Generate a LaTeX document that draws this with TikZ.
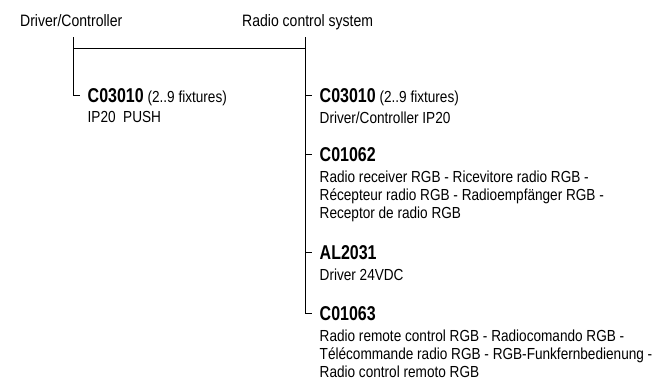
\documentclass[tikz,border=0pt]{standalone}
\usepackage{fontspec}
\setmainfont{Liberation Sans}[FakeStretch=0.85]
\newfontfamily\partfont{Liberation Sans}[FakeStretch=0.8]
\usetikzlibrary{positioning}
\tikzset{
  head/.style={inner sep=0pt, anchor=base west, font=\fontsize{16.5}{18}\selectfont},
  code/.style={inner xsep=7.5pt, inner ysep=0pt, anchor=west, text height=14.6pt, text depth=0pt, font=\fontsize{16}{18}\selectfont},
  note/.style={inner xsep=7.5pt, inner ysep=0pt, align=left, font=\fontsize{16}{18}\selectfont},
  branch/.style={line width=0.8pt}
}
\newcommand{\partno}[1]{{\partfont\fontsize{20}{22}\selectfont\bfseries #1}}

\begin{document}
\begin{tikzpicture}[x=1pt, y=-1pt]
  \useasboundingbox (0,0) rectangle (656,383);
  % system headings
  \node[head] (drv) at (20,26) {Driver/Controller};
  \node[head] (radio) at (242,26) {Radio control system};
  \coordinate (ltop) at (73,37);
  \coordinate (rtop) at (305,37);
  \coordinate (lbar) at (73,48);
  % left branch
  \node[code] (c03010l) at (80,95) {\partno{C03010} (2..9 fixtures)};
  \node[note, below=8.8pt of c03010l.south west, anchor=north west] (ip20push) {IP20\ \ PUSH};
  % right branch
  \node[code] (c03010r) at (312,95) {\partno{C03010} (2..9 fixtures)};
  \node[note, below=8.8pt of c03010r.south west, anchor=north west] (drvip20) {Driver/Controller IP20};
  \node[code] (c01062) at (312,154) {\partno{C01062}};
  \node[note, below=8.8pt of c01062.south west, anchor=north west] (receiver) {Radio receiver RGB - Ricevitore radio RGB -\\R\'ecepteur radio RGB - Radioempf\"anger RGB -\\Receptor de radio RGB};
  \node[code] (al2031) at (312,252) {\partno{AL2031}};
  \node[note, below=8.8pt of al2031.south west, anchor=north west] (drv24) {Driver 24VDC};
  \node[code] (c01063) at (312,313) {\partno{C01063}};
  \node[note, below=8.8pt of c01063.south west, anchor=north west] (remote) {Radio remote control RGB - Radiocomando RGB -\\T\'el\'ecommande radio RGB - RGB-Funkfernbedienung -\\Radio control remoto RGB};
  % connectors
  \draw[branch] (lbar) -- (rtop |- lbar);
  \draw[branch] (ltop) |- (c03010l.west);
  \draw[branch] (rtop) |- (c03010r.west);
  \draw[branch] (rtop) |- (c01062.west);
  \draw[branch] (rtop) |- (al2031.west);
  \draw[branch] (rtop) |- (c01063.west);
\end{tikzpicture}
\end{document}
